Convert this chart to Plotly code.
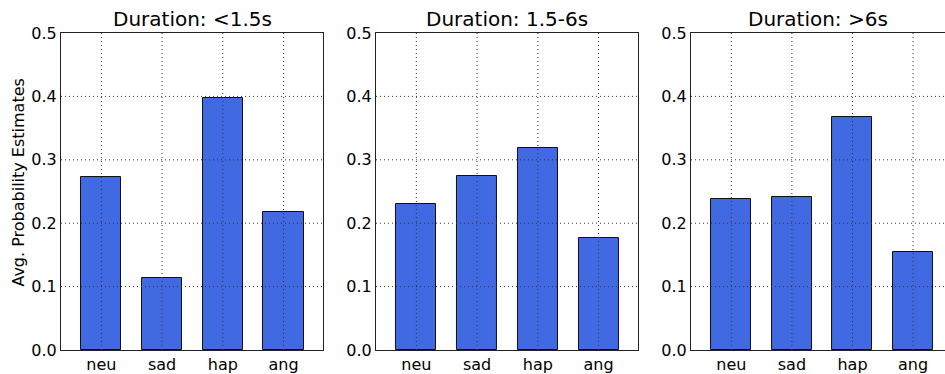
import plotly.graph_objects as go

categories = ["neu", "sad", "hap", "ang"]
panel_titles = ["Duration: <1.5s", "Duration: 1.5-6s", "Duration: >6s"]
y_label = "Avg. Probability Estimates"
short_vals = [0.273, 0.113, 0.397, 0.218]
mid_vals = [0.231, 0.274, 0.319, 0.177]
long_vals = [0.238, 0.241, 0.368, 0.154]
y_ticks = [0.0, 0.1, 0.2, 0.3, 0.4, 0.5]

series = [short_vals, mid_vals, long_vals]
positions = list(range(len(categories)))

domains = [[0.0, 0.2967], [0.3563, 0.6531], [0.7127, 1.0]]
xranges = [[-0.665, 3.655], [-0.665, 3.655], [-0.665, 3.527]]

FONT = "DejaVu Sans"
GRID = dict(color="#333333", width=1, dash="1px,3px")
fig = go.Figure()

for i, vals in enumerate(series):
    sfx = "" if i == 0 else str(i + 1)
    xa, ya = "x" + sfx, "y" + sfx
    fig.add_trace(go.Bar(
        x=positions, y=vals, width=0.66,
        marker=dict(color="#4169E1", line=dict(color="#111111", width=1)),
        xaxis=xa, yaxis=ya, showlegend=False,
        hoverinfo="y",
    ))
    fig.layout["xaxis" + sfx] = dict(
        domain=domains[i], range=xranges[i], anchor=ya,
        tickmode="array", tickvals=positions, ticktext=categories,
        showline=True, linecolor="#222222", linewidth=1.2, mirror=True,
        ticks="", zeroline=False, showgrid=False,
        tickfont=dict(family=FONT, size=16, color="#000000"),
    )
    fig.layout["yaxis" + sfx] = dict(
        domain=[0, 1], range=[0, 0.5], anchor=xa,
        tickmode="array", tickvals=y_ticks,
        ticktext=["%.1f" % v for v in y_ticks],
        showline=True, linecolor="#222222", linewidth=1.2,
        mirror=(i < 2), ticks="", zeroline=False, showgrid=False,
        tickfont=dict(family=FONT, size=16, color="#000000"),
    )
    # dotted grid drawn above the bars (as in the reference)
    for yv in y_ticks[1:-1]:
        fig.add_shape(type="line", xref=xa + " domain", yref=ya,
                      x0=0, x1=1, y0=yv, y1=yv, layer="above", line=GRID)
    for xv in positions:
        fig.add_shape(type="line", xref=xa, yref=ya + " domain",
                      x0=xv, x1=xv, y0=0, y1=1, layer="above", line=GRID)
    fig.add_annotation(
        text=panel_titles[i], x=sum(domains[i]) / 2, y=1.0,
        xref="paper", yref="paper", xanchor="center", yanchor="bottom",
        yshift=0, showarrow=False,
        font=dict(family=FONT, size=20, color="#000000"),
    )

fig.add_annotation(
    text=y_label, textangle=-90, x=0, y=0.528, xref="paper", yref="paper",
    xanchor="center", yanchor="middle", xshift=-42, showarrow=False,
    font=dict(family=FONT, size=16, color="#000000"),
)

fig.update_layout(
    width=945, height=374,
    margin=dict(l=61, r=0, t=33, b=19),
    paper_bgcolor="white", plot_bgcolor="white",
    bargap=0,
)

fig.write_html("out.html")
